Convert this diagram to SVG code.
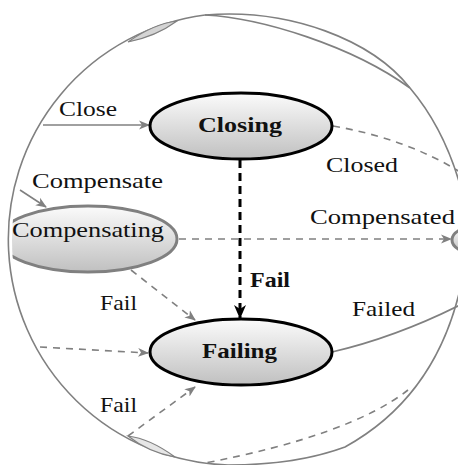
<svg xmlns="http://www.w3.org/2000/svg" width="458" height="465" viewBox="0 0 458 465">
<style>
  text{font-family:"Liberation Serif","DejaVu Serif","Times New Roman",serif;font-size:22px;fill:#111}
  .b{font-weight:bold}
  .edge{fill:none;stroke:#808080;stroke-width:1.6}
  .dash{stroke-dasharray:7 6}
  .node{fill:url(#shade);stroke:#000;stroke-width:3}
  .gnode{fill:url(#shade);stroke:#808080;stroke-width:3}
  .lens{fill:#d4d4d4;stroke:#808080;stroke-width:1.2}
</style>
<defs>
  <linearGradient id="shade" x1="0" y1="0" x2="0" y2="1">
    <stop offset="0" stop-color="#fbfbfb"/>
    <stop offset="1" stop-color="#c0c0c0"/>
  </linearGradient>
  <marker id="arrGray" markerWidth="11" markerHeight="10" refX="10" refY="5" orient="auto" markerUnits="userSpaceOnUse">
    <path d="M0,0.5 L11,5 L0,9.5 L3,5 Z" fill="#808080"/>
  </marker>
  <marker id="arrBlack" markerWidth="14" markerHeight="12" refX="13" refY="6" orient="auto" markerUnits="userSpaceOnUse">
    <path d="M0,0 L14,6 L0,12 L4,6 Z" fill="#000"/>
  </marker>
  <clipPath id="lensView">
    <circle cx="238" cy="240" r="226"/>
  </clipPath>
</defs>

<!-- boundary of the distorted view and edges squeezed along it -->
<g id="boundary" fill="none" stroke="#808080" stroke-width="1.6">
  <path d="M205,15 A226,226 0 0 0 228,465"/>
  <path d="M205,15 C290,8 372,40 410,88"/>
  <path d="M205,15 C262,18 352,46 410,88"/>
  <path d="M410,88 C432,114 452,150 464,200"/>
  <path d="M464,270 C450,350 412,410 345,447 C310,460 270,465 228,465"/>
  <path class="lens" d="M128,42 C145,30 160,23 177,21 C162,32 148,38 128,42 Z"/>
  <path class="lens" style="fill:#e6e6e6" d="M128,436 C145,438 160,446 175,457 C158,454 143,448 128,436 Z"/>
</g>

<g id="connectors">
  <path class="edge" d="M43,125 L149,125" marker-end="url(#arrGray)"/>
  <path class="edge" d="M20,190 L46,207" marker-end="url(#arrGray)"/>
  <path class="edge dash" d="M333,126 C380,134 425,150 460,172"/>
  <path d="M240,160 L240,318" fill="none" stroke="#000" stroke-width="3" stroke-dasharray="8 5" marker-end="url(#arrBlack)"/>
  <path class="edge dash" d="M179,239 L451,239" marker-end="url(#arrGray)"/>
  <path class="edge dash" d="M131,270 L195,320" marker-end="url(#arrGray)"/>
  <path class="edge dash" d="M40,347 L148,353" marker-end="url(#arrGray)"/>
  <path class="edge dash" d="M128,436 L195,387" marker-end="url(#arrGray)"/>
  <path class="edge" d="M332,352 C375,342 420,325 460,305"/>
  <path class="edge dash" d="M408,390 C370,420 300,445 205,463"/>
</g>

<g id="closing">
  <ellipse class="node" cx="241" cy="126" rx="91" ry="33"/>
  <text class="b" x="198" y="132" textLength="84" lengthAdjust="spacingAndGlyphs">Closing</text>
</g>

<g id="failing">
  <ellipse class="node" cx="241" cy="352" rx="91" ry="33"/>
  <text class="b" x="202" y="358" textLength="75" lengthAdjust="spacingAndGlyphs">Failing</text>
</g>

<g id="compensating">
  <ellipse class="gnode" cx="88" cy="239" rx="89" ry="33" clip-path="url(#lensView)"/>
  <text x="12" y="237" textLength="152" lengthAdjust="spacingAndGlyphs">Compensating</text>
</g>

<g id="compensated-node">
  <ellipse class="gnode" cx="474" cy="240" rx="22" ry="13"/>
</g>

<g id="labels">
  <text x="59" y="116" textLength="58" lengthAdjust="spacingAndGlyphs">Close</text>
  <text x="32" y="188" textLength="131" lengthAdjust="spacingAndGlyphs">Compensate</text>
  <text x="326" y="172" textLength="72" lengthAdjust="spacingAndGlyphs">Closed</text>
  <text x="310" y="224" textLength="145" lengthAdjust="spacingAndGlyphs">Compensated</text>
  <text class="b" x="250" y="287" textLength="40" lengthAdjust="spacingAndGlyphs">Fail</text>
  <text x="352" y="316" textLength="63" lengthAdjust="spacingAndGlyphs">Failed</text>
  <text x="100" y="310" textLength="37" lengthAdjust="spacingAndGlyphs">Fail</text>
  <text x="100" y="412" textLength="37" lengthAdjust="spacingAndGlyphs">Fail</text>
</g>
</svg>
